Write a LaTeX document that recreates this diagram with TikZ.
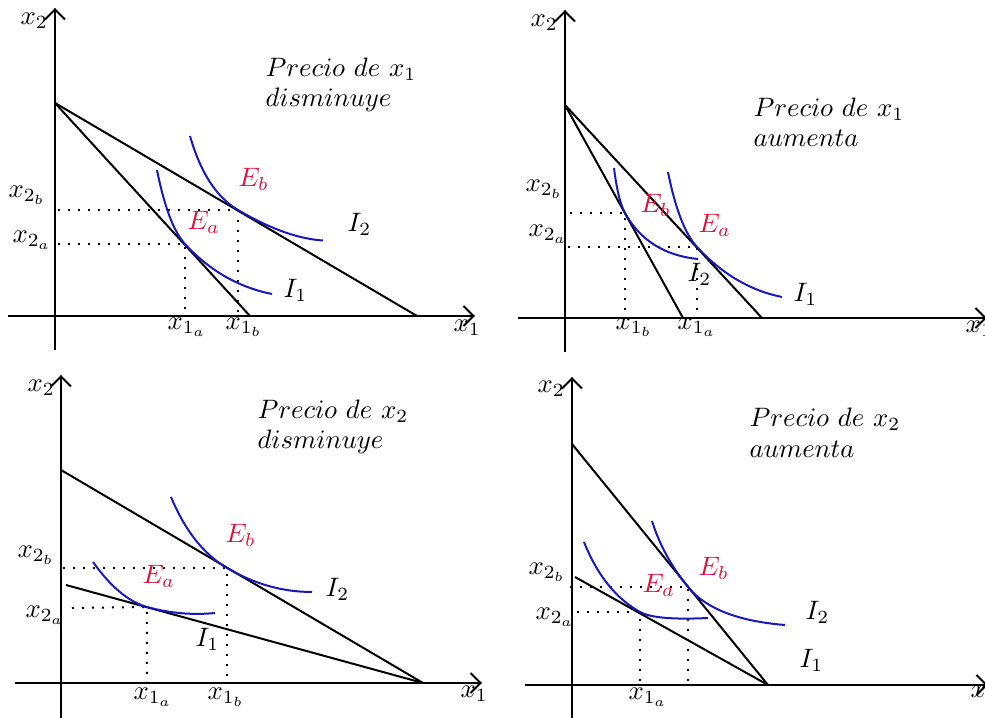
\documentclass[tikz,border=0pt]{standalone}
\usetikzlibrary{arrows.meta,calc}
\definecolor{eqred}{RGB}{220,20,60}
\definecolor{icblue}{RGB}{25,25,185}
\tikzset{
  axis/.style={line width=0.75pt, -{Straight Barb[length=3.8pt,width=7.5pt]}},
  budget/.style={line width=0.75pt},
  icurve/.style={icblue, line width=0.75pt},
  guide/.style={line width=0.75pt, dash pattern=on 0.75pt off 3pt},
  lbl/.style={anchor=base west, inner sep=0pt},
  eq/.style={lbl, text=eqred},
}
\begin{document}
\begin{tikzpicture}[x=0.375pt, y=0.375pt]
\clip (0,0) rectangle (985,-718);
% ---------------- Panel 1 ----------------
\coordinate (p1yb) at (55,-350); \coordinate (p1yt) at (55,-8);
\coordinate (p1xl) at (8,-316);  \coordinate (p1xr) at (475,-316);
\coordinate (p1A) at (55,-103);
\coordinate (p1B1) at (250,-316); \coordinate (p1B2) at (417,-316);
\coordinate (p1Ea) at (185,-244); \coordinate (p1Eb) at (238,-210);
\coordinate (p1ha) at (58,-244); \coordinate (p1va) at (185,-316);
\coordinate (p1hb) at (58,-210); \coordinate (p1vb) at (238,-316);
\coordinate (p1S1) at (157,-170); \coordinate (p1Q1a) at (168.1,-225.6);
\coordinate (p1Q1b) at (221.8,-284); \coordinate (p1T1) at (272,-294);
\coordinate (p1S2) at (190,-136); \coordinate (p1Q2a) at (205.8,-191.1);
\coordinate (p1Q2b) at (286,-238.2); \coordinate (p1T2) at (323,-240.5);
\draw[axis] (p1yb) -- (p1yt);
\draw[axis] (p1xl) -- (p1xr);
\draw[budget] (p1A) -- (p1B1);
\draw[budget] (p1A) -- (p1B2);
\draw[guide] (p1ha) -- (p1Ea) -- (p1va);
\draw[guide] (p1hb) -- (p1Eb) -- (p1vb);
\draw[icurve] (p1S1) .. controls ($(p1S1)!2/3!(p1Q1a)$) and ($(p1Ea)!2/3!(p1Q1a)$) .. (p1Ea)
  .. controls ($(p1Ea)!2/3!(p1Q1b)$) and ($(p1T1)!2/3!(p1Q1b)$) .. (p1T1);
\draw[icurve] (p1S2) .. controls ($(p1S2)!2/3!(p1Q2a)$) and ($(p1Eb)!2/3!(p1Q2a)$) .. (p1Eb)
  .. controls ($(p1Eb)!2/3!(p1Q2b)$) and ($(p1T2)!2/3!(p1Q2b)$) .. (p1T2);
\node[lbl] (p1x2) at (20,-25) {$x_2$};
\node[lbl] (p1x1) at (453,-332) {$x_1$};
\node[lbl] (p1t) at (265,-77) {$Precio\ de\ x_1$};
\node[lbl] (p1u) at (265,-107) {$disminuye$};
\node[eq] (p1EbL) at (238,-187) {$E_b$};
\node[eq] (p1EaL) at (187,-230) {$E_a$};
\node[lbl] (p1I2) at (347,-232) {$I_2$};
\node[lbl] (p1I1) at (283,-298) {$I_1$};
\node[lbl] (p1x2b) at (8,-198) {$x_{2_b}$};
\node[lbl] (p1x2a) at (12,-243) {$x_{2_a}$};
\node[lbl] (p1x1a) at (167,-330) {$x_{1_a}$};
\node[lbl] (p1x1b) at (225,-330) {$x_{1_b}$};
% ---------------- Panel 2 ----------------
\coordinate (p2yb) at (565,-352); \coordinate (p2yt) at (565,-10);
\coordinate (p2xl) at (518,-318); \coordinate (p2xr) at (987,-318);
\coordinate (p2A) at (565,-105);
\coordinate (p2B1) at (683,-318); \coordinate (p2B2) at (762,-318);
\coordinate (p2Eb) at (625,-213); \coordinate (p2Ea) at (697,-247);
\coordinate (p2hb) at (570,-213); \coordinate (p2vb) at (625,-318);
\coordinate (p2ha) at (568,-247); \coordinate (p2va) at (697,-318);
\coordinate (p2S2) at (614,-168); \coordinate (p2Q2a) at (618.1,-200.8);
\coordinate (p2Q2b) at (647.7,-254); \coordinate (p2T2) at (698,-259);
\coordinate (p2S1) at (668,-172); \coordinate (p2Q1a) at (679.1,-227.5);
\coordinate (p2Q1b) at (734.5,-287.5); \coordinate (p2T1) at (782,-297);
\draw[axis] (p2yb) -- (p2yt);
\draw[axis] (p2xl) -- (p2xr);
\draw[budget] (p2A) -- (p2B1);
\draw[budget] (p2A) -- (p2B2);
\draw[guide] (p2hb) -- (p2Eb) -- (p2vb);
\draw[guide] (p2ha) -- (p2Ea) -- (p2va);
\draw[icurve] (p2S2) .. controls ($(p2S2)!2/3!(p2Q2a)$) and ($(p2Eb)!2/3!(p2Q2a)$) .. (p2Eb)
  .. controls ($(p2Eb)!2/3!(p2Q2b)$) and ($(p2T2)!2/3!(p2Q2b)$) .. (p2T2);
\draw[icurve] (p2S1) .. controls ($(p2S1)!2/3!(p2Q1a)$) and ($(p2Ea)!2/3!(p2Q1a)$) .. (p2Ea)
  .. controls ($(p2Ea)!2/3!(p2Q1b)$) and ($(p2T1)!2/3!(p2Q1b)$) .. (p2T1);
\node[lbl] (p2x2) at (530,-27) {$x_2$};
\node[lbl] (p2x1) at (965,-333) {$x_1$};
\node[lbl] (p2t) at (753,-117) {$Precio\ de\ x_1$};
\node[lbl] (p2u) at (753,-147) {$aumenta$};
\node[eq] (p2EbL) at (640,-213) {$E_b$};
\node[eq] (p2EaL) at (698,-233) {$E_a$};
\node[lbl] (p2I2) at (687,-282) {$I_2$};
\node[lbl] (p2I1) at (793,-302) {$I_1$};
\node[lbl] (p2x2b) at (525,-192) {$x_{2_b}$};
\node[lbl] (p2x2a) at (528,-237) {$x_{2_a}$};
\node[lbl] (p2x1b) at (615,-330) {$x_{1_b}$};
\node[lbl] (p2x1a) at (677,-330) {$x_{1_a}$};
% ---------------- Panel 3 ----------------
\coordinate (p3yb) at (61,-718); \coordinate (p3yt) at (61,-375);
\coordinate (p3xl) at (15,-683); \coordinate (p3xr) at (482,-683);
\coordinate (p3A) at (61,-470); \coordinate (p3C) at (66,-585);
\coordinate (p3B) at (423,-683);
\coordinate (p3Eb) at (227,-568); \coordinate (p3Ea) at (147,-607);
\coordinate (p3hb) at (63,-568); \coordinate (p3vb) at (227,-683);
\coordinate (p3ha) at (72,-608); \coordinate (p3va) at (147,-683);
\coordinate (p3S2) at (171,-497); \coordinate (p3Q2a) at (192,-547.4);
\coordinate (p3Q2b) at (267.8,-592); \coordinate (p3T2) at (312,-592);
\coordinate (p3S1) at (93,-562); \coordinate (p3Q1a) at (119.8,-599.5);
\coordinate (p3Q1b) at (181.2,-616.4); \coordinate (p3T1) at (215,-613);
\draw[axis] (p3yb) -- (p3yt);
\draw[axis] (p3xl) -- (p3xr);
\draw[budget] (p3A) -- (p3B);
\draw[budget] (p3C) -- (p3B);
\draw[guide] (p3hb) -- (p3Eb) -- (p3vb);
\draw[guide] (p3ha) -- (p3Ea) -- (p3va);
\draw[icurve] (p3S2) .. controls ($(p3S2)!2/3!(p3Q2a)$) and ($(p3Eb)!2/3!(p3Q2a)$) .. (p3Eb)
  .. controls ($(p3Eb)!2/3!(p3Q2b)$) and ($(p3T2)!2/3!(p3Q2b)$) .. (p3T2);
\draw[icurve] (p3S1) .. controls ($(p3S1)!2/3!(p3Q1a)$) and ($(p3Ea)!2/3!(p3Q1a)$) .. (p3Ea)
  .. controls ($(p3Ea)!2/3!(p3Q1b)$) and ($(p3T1)!2/3!(p3Q1b)$) .. (p3T1);
\node[lbl] (p3x2) at (27,-392) {$x_2$};
\node[lbl] (p3x1) at (460,-698) {$x_1$};
\node[lbl] (p3t) at (257,-419) {$Precio\ de\ x_2$};
\node[lbl] (p3u) at (257,-449) {$disminuye$};
\node[eq] (p3EbL) at (225,-543) {$E_b$};
\node[eq] (p3EaL) at (142,-584) {$E_a$};
\node[lbl] (p3I2) at (325,-597) {$I_2$};
\node[lbl] (p3I1) at (195,-647) {$I_1$};
\node[lbl] (p3x2b) at (17,-558) {$x_{2_b}$};
\node[lbl] (p3x2a) at (25,-618) {$x_{2_a}$};
\node[lbl] (p3x1a) at (133,-700) {$x_{1_a}$};
\node[lbl] (p3x1b) at (207,-700) {$x_{1_b}$};
% ---------------- Panel 4 ----------------
\coordinate (p4yb) at (572,-718); \coordinate (p4yt) at (572,-377);
\coordinate (p4xl) at (525,-685); \coordinate (p4xr) at (988,-685);
\coordinate (p4A) at (572,-444); \coordinate (p4C) at (575,-577);
\coordinate (p4B) at (768,-685);
\coordinate (p4Eb) at (688,-587); \coordinate (p4Ea) at (640,-612);
\coordinate (p4hb) at (570,-587); \coordinate (p4vb) at (688,-688);
\coordinate (p4ha) at (577,-612); \coordinate (p4va) at (640,-685);
\coordinate (p4S2) at (652,-521); \coordinate (p4Q2a) at (663,-556.2);
\coordinate (p4Q2b) at (714.3,-619.3); \coordinate (p4T2) at (785,-625);
\coordinate (p4S1) at (584,-542); \coordinate (p4Q1a) at (603.9,-591.8);
\coordinate (p4Q1b) at (655.4,-620.6); \coordinate (p4T1) at (708,-618);
\draw[axis] (p4yb) -- (p4yt);
\draw[axis] (p4xl) -- (p4xr);
\draw[budget] (p4A) -- (p4B);
\draw[budget] (p4C) -- (p4B);
\draw[guide] (p4hb) -- (p4Eb) -- (p4vb);
\draw[guide] (p4ha) -- (p4Ea) -- (p4va);
\draw[icurve] (p4S2) .. controls ($(p4S2)!2/3!(p4Q2a)$) and ($(p4Eb)!2/3!(p4Q2a)$) .. (p4Eb)
  .. controls ($(p4Eb)!2/3!(p4Q2b)$) and ($(p4T2)!2/3!(p4Q2b)$) .. (p4T2);
\draw[icurve] (p4S1) .. controls ($(p4S1)!2/3!(p4Q1a)$) and ($(p4Ea)!2/3!(p4Q1a)$) .. (p4Ea)
  .. controls ($(p4Ea)!2/3!(p4Q1b)$) and ($(p4T1)!2/3!(p4Q1b)$) .. (p4T1);
\node[lbl] (p4x2) at (537,-393) {$x_2$};
\node[lbl] (p4x1) at (970,-698) {$x_1$};
\node[lbl] (p4t) at (749,-427) {$Precio\ de\ x_2$};
\node[lbl] (p4u) at (749,-458) {$aumenta$};
\node[eq] (p4EbL) at (698,-576) {$E_b$};
\node[eq] (p4EaL) at (642,-593) {$E_a$};
\node[lbl] (p4I2) at (805,-620) {$I_2$};
\node[lbl] (p4I1) at (799,-668) {$I_1$};
\node[lbl] (p4x2b) at (528,-575) {$x_{2_b}$};
\node[lbl] (p4x2a) at (535,-620) {$x_{2_a}$};
\node[lbl] (p4x1a) at (628,-700) {$x_{1_a}$};
\end{tikzpicture}
\end{document}
